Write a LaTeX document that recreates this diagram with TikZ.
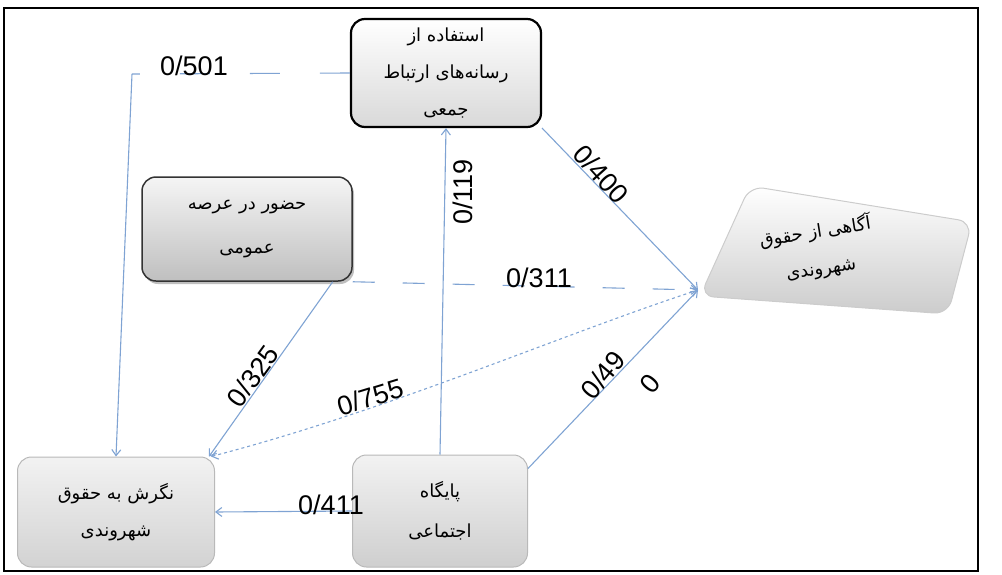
\documentclass[tikz,border=0pt]{standalone}
\usepackage{fontspec}
\newfontfamily\fafont[Script=Arabic]{DejaVu Sans}
\newfontfamily\numfont{Liberation Sans}
\TeXXeTstate=1
\usetikzlibrary{arrows.meta,shadows}
\definecolor{linkblue}{HTML}{7FA3D3}
\newcommand\rl[1]{\beginR#1\endR}
\begin{document}
\begin{tikzpicture}[x=1pt,y=-1pt,
  box/.style={rounded corners=14pt, align=center, inner sep=0pt,
    font=\fafont\fontsize{18}{37}\selectfont},
  linkline/.style={draw=linkblue, line width=1.1pt},
  link/.style={linkline, -{Straight Barb[length=6pt,width=9pt]}},
  num/.style={font=\numfont\fontsize{27}{27}\selectfont, inner sep=1pt},
]
\useasboundingbox (0,0) rectangle (1002,574);
% outer frame
\draw[line width=2.5pt] (4,8) rectangle (978,571);

% boxes
\node[box, draw=black, line width=2.2pt, top color=white, bottom color=gray!30,
  minimum width=190pt, minimum height=108pt] (media) at (446,73)
  {\rl{استفاده از}\\\rl{رسانه‌های ارتباط}\\\rl{جمعی}};
\node[box, draw=gray!40!black, line width=1.5pt, top color=gray!8, bottom color=gray!50,
  drop shadow={opacity=0.5, shadow xshift=2pt, shadow yshift=-3pt},
  minimum width=210pt, minimum height=104pt,
  font=\fafont\fontsize{18}{44}\selectfont] (public) at (247,229)
  {\rl{حضور در عرصه}\\\rl{عمومی}};
\node[box, draw=gray!55, line width=1pt, top color=gray!10, bottom color=gray!35,
  minimum width=197pt, minimum height=110pt] (att) at (116,512)
  {\rl{نگرش به حقوق}\\\rl{شهروندی}};
\node[box, draw=gray!55, line width=1pt, top color=gray!10, bottom color=gray!38,
  minimum width=175pt, minimum height=112pt,
  font=\fafont\fontsize{18}{40}\selectfont] (social) at (440,511)
  {\rl{پایگاه}\\\rl{اجتماعی}};

% tilted slab
\shade[top color=white, bottom color=gray!40, draw=gray!40, line width=1pt,
  rounded corners=14pt] (750,186) -- (972,222) -- (948,314) -- (700,296) -- cycle;
\node[rotate=9, align=center, inner sep=0pt,
  font=\fafont\fontsize{18}{37}\selectfont] (aw) at (818,250)
  {\rl{آگاهی از حقوق}\\\rl{شهروندی}};
\coordinate (awtip) at (698,290);

% connectors
\coordinate (c501) at (132,74);
\draw[linkline, dash pattern=on 30pt off 40pt] (media.west) -- (c501);
\draw[link] (c501) -- (att.north);
\node[num] at (194,66) {0/501};

\draw[link] (social.north) -- (media.south);
\node[num, rotate=90] at (463,192) {0/119};

\draw[link] (media.south east) -- (awtip);
\node[num, rotate=-48] at (601,174) {0/400};

\draw[link, dash pattern=on 22pt off 28pt] (public.south east) -- (awtip);
\node[num] at (539,278) {0/311};

\draw[link] ([xshift=-20pt]public.south east) -- ([xshift=-6pt]att.north east);
\node[num, rotate=54] at (253,376) {0/325};

\draw[linkline, dash pattern=on 3pt off 3pt,
  {Straight Barb[length=6pt,width=9pt]}-{Straight Barb[length=6pt,width=9pt]}]
  ([xshift=-4pt]att.north east) .. controls (390,410) and (560,335) .. (awtip);
\node[num, rotate=17] at (370,397) {0/755};

\draw[link] ([yshift=-14pt]social.north east) -- (awtip);
\node[num, rotate=50] at (603,375) {0/49};
\node[num, rotate=50] at (650,384) {0};

\draw[link] (social.west) -- (att.east);
\node[num] at (331,505) {0/411};
\end{tikzpicture}
\end{document}
